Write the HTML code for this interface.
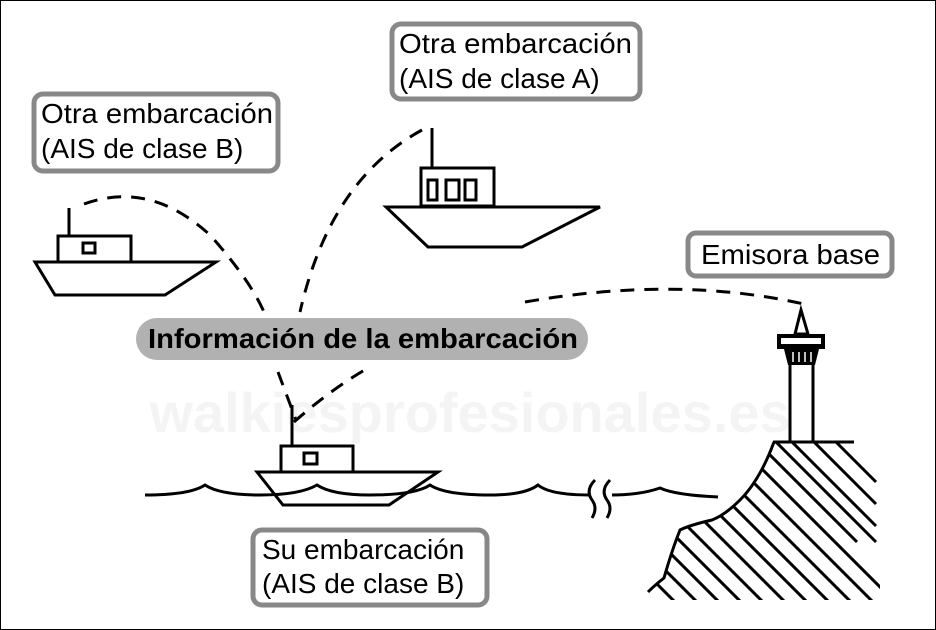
<!DOCTYPE html>
<html><head><style>
html,body{margin:0;padding:0;background:#fff;}
svg{display:block;}
text{font-family:"Liberation Sans",sans-serif;}
</style></head><body>
<svg width="936" height="630" viewBox="0 0 936 630" xmlns="http://www.w3.org/2000/svg">
<rect x="0.5" y="0.5" width="935" height="629" fill="#fff" stroke="#000" stroke-width="1"/>
<text x="470" y="432" font-size="56" fill="#f4f4f4" text-anchor="middle" font-weight="bold">walkiesprofesionales.es</text>

<g fill="none" stroke="#000" stroke-width="3" stroke-dasharray="14,10">
<path d="M84,204 Q150,180 210,235 Q250,280 264,312"/>
<path d="M278,372 L296,420"/>
<path d="M422,130 Q330,180 300,312"/>
<path d="M294,422 Q330,390 368,368"/>
<path d="M525,302 Q680,275 808,305"/>
</g>

<g fill="#fff" stroke="#888" stroke-width="5">
<rect x="392" y="24" width="248" height="75" rx="9"/>
<rect x="34" y="94" width="244" height="77" rx="9"/>
<rect x="688" y="233" width="204" height="43" rx="8"/>
<rect x="253" y="530" width="234" height="75" rx="9"/>
</g>
<g font-size="28" fill="#000">
<text x="399" y="53" textLength="233" lengthAdjust="spacingAndGlyphs">Otra embarcación</text>
<text x="399" y="88">(AIS de clase A)</text>
<text x="41" y="123" textLength="232" lengthAdjust="spacingAndGlyphs">Otra embarcación</text>
<text x="41" y="158">(AIS de clase B)</text>
<text x="701" y="264" textLength="179" lengthAdjust="spacingAndGlyphs">Emisora base</text>
<text x="262" y="559">Su embarcación</text>
<text x="262" y="593">(AIS de clase B)</text>
</g>
<rect x="136" y="318" width="452" height="42" rx="21" fill="#b1b1b1"/>
<text x="148" y="348" font-size="28" font-weight="bold" textLength="430" lengthAdjust="spacingAndGlyphs">Información de la embarcación</text>

<g fill="none" stroke="#000" stroke-width="3" stroke-linejoin="miter">
<line x1="69" y1="208" x2="69" y2="236"/>
<rect x="58" y="236" width="73" height="26"/>
<rect x="83" y="243" width="12" height="10"/>
<polygon points="35,262 216,262 165,295 55,295"/>
<line x1="432" y1="128" x2="432" y2="168"/>
<rect x="421" y="168" width="73" height="38"/>
<rect x="428" y="180" width="9" height="20"/>
<rect x="446" y="180" width="13" height="20"/>
<rect x="465" y="180" width="11" height="20"/>
<polygon points="386,207 600,207 522,247 428,247"/>
<line x1="292" y1="405" x2="292" y2="446"/>
<rect x="281" y="446" width="72" height="26"/>
<rect x="304" y="453" width="13" height="11"/>
<polygon points="257,472 438,472 389,505 283,505"/>
<path d="M145,495 Q190,495 205,485 Q220,495 260,495 Q300,495 317,485 Q332,495 370,495 Q415,495 430,485 Q445,495 490,495 Q525,495 538,485 Q550,495 590,495"/>
<path d="M595,480 Q585,490 592,500 Q598,508 592,518"/>
<path d="M610,480 Q600,490 607,500 Q613,508 607,518"/>
<path d="M612,495 Q640,495 660,488 Q675,495 718,497"/>
<polygon points="801,310 795,334 808,334" />
<line x1="790" y1="364" x2="790" y2="442"/>
<line x1="813" y1="364" x2="813" y2="442"/>
<line x1="773" y1="442" x2="854" y2="442"/>
<path d="M774,442 Q760,480 740,500 Q725,515 712,520 Q690,525 680,530 Q672,550 664,578 Q655,585 648,592"/>
</g>
<rect x="777" y="334" width="48" height="15" fill="#000"/>
<rect x="781" y="338" width="40" height="6" fill="#fff"/>
<polygon points="784,349 819,349 815,365 788,365" fill="#000"/>
<g stroke="#fff" stroke-width="1.5"><line x1="793" y1="352" x2="793" y2="362"/><line x1="799" y1="352" x2="799" y2="362"/><line x1="805" y1="352" x2="805" y2="362"/><line x1="811" y1="352" x2="811" y2="362"/></g>
<clipPath id="cl"><path d="M774,442 L880,442 L880,600 L640,600 L648,592 Q655,585 664,578 Q672,550 680,530 Q690,525 712,520 Q725,515 740,500 Q760,480 774,442 Z"/></clipPath>
<g clip-path="url(#cl)" stroke="#000" stroke-width="3">
<line x1="776" y1="442" x2="876" y2="542"/>
<line x1="792" y1="442" x2="876" y2="526"/>
<line x1="814" y1="442" x2="876" y2="504"/>
<line x1="836" y1="442" x2="876" y2="482"/>
<line x1="757" y1="442" x2="857" y2="542"/>
<line x1="740" y1="447" x2="900" y2="607"/>
<line x1="720" y1="449" x2="880" y2="609"/>
<line x1="700" y1="451" x2="860" y2="611"/>
<line x1="680" y1="453" x2="840" y2="613"/>
<line x1="660" y1="455" x2="820" y2="615"/>
<line x1="640" y1="457" x2="800" y2="617"/>
<line x1="620" y1="459" x2="780" y2="619"/>
<line x1="600" y1="461" x2="760" y2="621"/>
<line x1="580" y1="463" x2="740" y2="623"/>
<line x1="560" y1="465" x2="720" y2="625"/>
<line x1="540" y1="467" x2="700" y2="627"/>
</g>
</svg>
</body></html>
